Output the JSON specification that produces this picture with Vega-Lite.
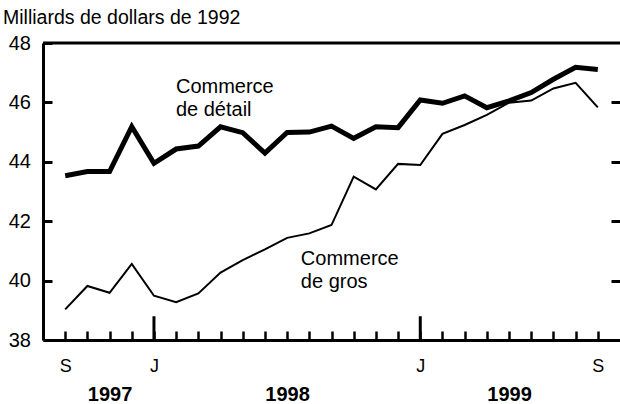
{
  "$schema": "https://vega.github.io/schema/vega-lite/v6.json",
  "width": 577,
  "height": 297,
  "autosize": "none",
  "padding": {"left": 43, "top": 43, "right": 0, "bottom": 64},
  "background": "white",
  "config": {
    "view": {"stroke": null},
    "font": "Liberation Sans",
    "axis": {"grid": false, "domainColor": "black", "tickColor": "black", "labelColor": "black", "labelFont": "Liberation Sans"}
  },
  "title": {
    "text": "Milliards de dollars de 1992",
    "anchor": "start",
    "frame": "group",
    "fontSize": 19.5,
    "fontWeight": "normal",
    "font": "Liberation Sans",
    "color": "black",
    "dx": -40,
    "offset": 5
  },
  "datasets": {
    "series": [
      {"m": 0, "serie": "détail", "v": 43.53},
      {"m": 1, "serie": "détail", "v": 43.67},
      {"m": 2, "serie": "détail", "v": 43.67},
      {"m": 3, "serie": "détail", "v": 45.18},
      {"m": 4, "serie": "détail", "v": 43.95},
      {"m": 5, "serie": "détail", "v": 44.43},
      {"m": 6, "serie": "détail", "v": 44.53},
      {"m": 7, "serie": "détail", "v": 45.18},
      {"m": 8, "serie": "détail", "v": 44.98},
      {"m": 9, "serie": "détail", "v": 44.29},
      {"m": 10, "serie": "détail", "v": 44.99},
      {"m": 11, "serie": "détail", "v": 45.0},
      {"m": 12, "serie": "détail", "v": 45.2},
      {"m": 13, "serie": "détail", "v": 44.79},
      {"m": 14, "serie": "détail", "v": 45.18},
      {"m": 15, "serie": "détail", "v": 45.15},
      {"m": 16, "serie": "détail", "v": 46.08},
      {"m": 17, "serie": "détail", "v": 45.97},
      {"m": 18, "serie": "détail", "v": 46.22},
      {"m": 19, "serie": "détail", "v": 45.82},
      {"m": 20, "serie": "détail", "v": 46.05},
      {"m": 21, "serie": "détail", "v": 46.33},
      {"m": 22, "serie": "détail", "v": 46.78},
      {"m": 23, "serie": "détail", "v": 47.18},
      {"m": 24, "serie": "détail", "v": 47.11},
      {"m": 0, "serie": "gros", "v": 39.03},
      {"m": 1, "serie": "gros", "v": 39.82},
      {"m": 2, "serie": "gros", "v": 39.59},
      {"m": 3, "serie": "gros", "v": 40.56},
      {"m": 4, "serie": "gros", "v": 39.49},
      {"m": 5, "serie": "gros", "v": 39.27},
      {"m": 6, "serie": "gros", "v": 39.57},
      {"m": 7, "serie": "gros", "v": 40.27},
      {"m": 8, "serie": "gros", "v": 40.69},
      {"m": 9, "serie": "gros", "v": 41.05},
      {"m": 10, "serie": "gros", "v": 41.44},
      {"m": 11, "serie": "gros", "v": 41.59},
      {"m": 12, "serie": "gros", "v": 41.87},
      {"m": 13, "serie": "gros", "v": 43.5},
      {"m": 14, "serie": "gros", "v": 43.07},
      {"m": 15, "serie": "gros", "v": 43.93},
      {"m": 16, "serie": "gros", "v": 43.89},
      {"m": 17, "serie": "gros", "v": 44.94},
      {"m": 18, "serie": "gros", "v": 45.24},
      {"m": 19, "serie": "gros", "v": 45.58},
      {"m": 20, "serie": "gros", "v": 45.99},
      {"m": 21, "serie": "gros", "v": 46.06},
      {"m": 22, "serie": "gros", "v": 46.47},
      {"m": 23, "serie": "gros", "v": 46.66},
      {"m": 24, "serie": "gros", "v": 45.83}
    ],
    "jan": [{"m": 4}, {"m": 16}],
    "top": [{"v": 48}],
    "labels": [
      {"m": 4.99, "v": 46.87, "text": "Commerce\nde détail"},
      {"m": 10.62, "v": 41.08, "text": "Commerce\nde gros"}
    ]
  },
  "resolve": {"axis": {"x": "independent", "y": "independent"}},
  "layer": [
    {
      "data": {"name": "series"},
      "transform": [{"filter": "datum.serie === 'gros'"}],
      "mark": {"type": "line", "color": "black", "strokeWidth": 2, "strokeJoin": "miter"},
      "encoding": {
        "x": {
          "field": "m", "type": "quantitative",
          "scale": {"domain": [-1, 25], "nice": false, "zero": false},
          "axis": {
            "orient": "bottom", "title": null,
            "values": [0,1,2,3,4,5,6,7,8,9,10,11,12,13,14,15,16,17,18,19,20,21,22,23,24],
            "labelExpr": "datum.value == 0 || datum.value == 24 ? 'S' : (datum.value == 4 || datum.value == 16 ? 'J' : '')",
            "tickSize": -9, "tickWidth": 2.5, "domainWidth": 3,
            "labelFontSize": 18, "labelPadding": 26,
            "labelOverlap": false, "labelBound": false, "labelFlush": false
          }
        },
        "y": {
          "field": "v", "type": "quantitative",
          "scale": {"domain": [38, 48], "nice": false, "zero": false},
          "axis": {
            "orient": "left", "title": null,
            "values": [38, 40, 42, 44, 46, 48],
            "tickSize": -9, "tickWidth": 3, "domainWidth": 3,
            "labelFontSize": 20, "labelPadding": 21.5,
            "labelOverlap": false, "labelBound": false, "labelFlush": false
          }
        }
      }
    },
    {
      "data": {"name": "series"},
      "transform": [{"filter": "datum.serie === 'détail'"}],
      "mark": {"type": "line", "color": "black", "strokeWidth": 5, "strokeJoin": "miter"},
      "encoding": {
        "x": {"field": "m", "type": "quantitative", "axis": null},
        "y": {"field": "v", "type": "quantitative", "axis": null}
      }
    },
    {
      "data": {"name": "jan"},
      "mark": {"type": "rule", "color": "black", "strokeWidth": 3},
      "encoding": {
        "x": {
          "field": "m", "type": "quantitative",
          "axis": {
            "orient": "bottom", "title": null,
            "values": [2, 10, 20],
            "labelExpr": "datum.value == 2 ? '1997' : (datum.value == 10 ? '1998' : '1999')",
            "domain": false, "ticks": false,
            "labelFontSize": 20, "labelFontWeight": "bold", "labelPadding": 44,
            "labelOverlap": false, "labelBound": false, "labelFlush": false
          }
        },
        "y": {"datum": 38, "axis": null},
        "y2": {"datum": 38.8}
      }
    },
    {
      "data": {"name": "top"},
      "mark": {"type": "rule", "color": "black", "strokeWidth": 3},
      "encoding": {
        "y": {"field": "v", "type": "quantitative", "axis": null}
      }
    },
    {
      "data": {"name": "labels"},
      "mark": {"type": "text", "align": "left", "baseline": "top", "fontSize": 20, "lineHeight": 23, "lineBreak": "\n", "color": "black", "font": "Liberation Sans"},
      "encoding": {
        "x": {"field": "m", "type": "quantitative", "axis": null},
        "y": {
          "field": "v", "type": "quantitative",
          "axis": {
            "orient": "right", "title": null,
            "values": [40, 42, 44, 46],
            "domain": false, "labels": false,
            "tickSize": -9, "tickWidth": 3
          }
        },
        "text": {"field": "text"}
      }
    }
  ]
}
